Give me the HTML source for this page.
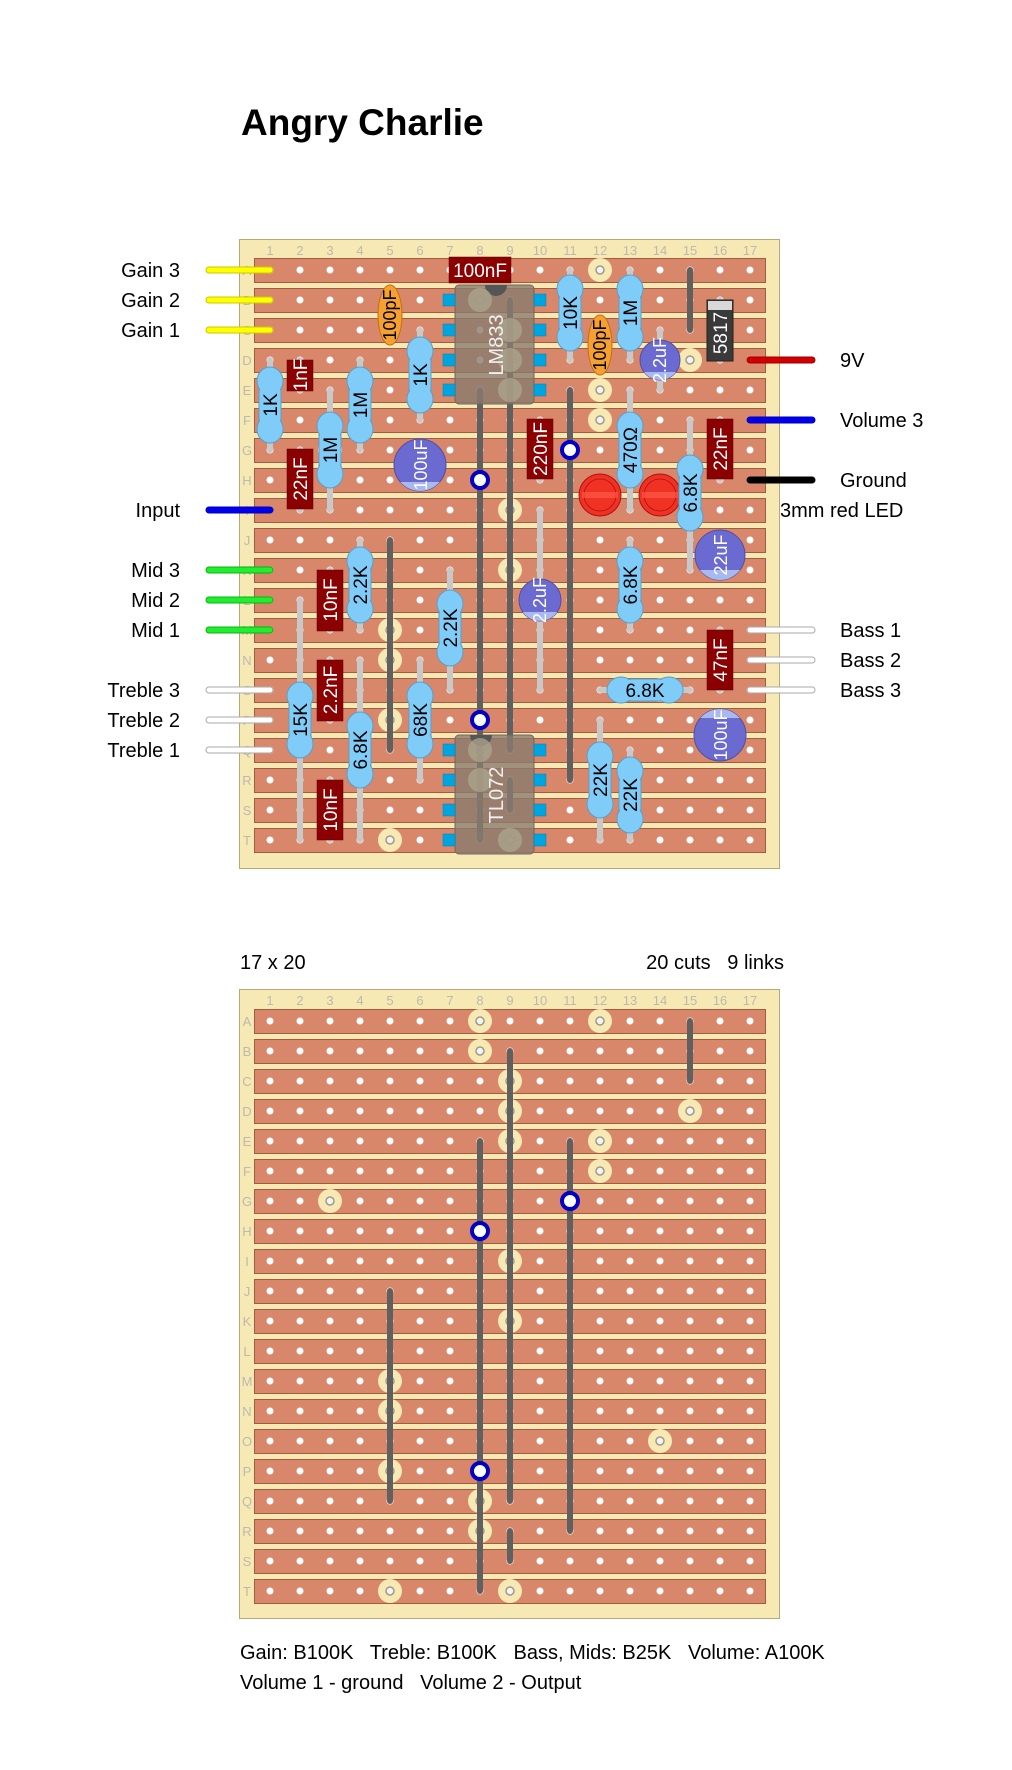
<!DOCTYPE html>
<html><head><meta charset="utf-8"><style>
html,body{margin:0;padding:0;background:#fff;}
svg{display:block;font-family:"Liberation Sans",sans-serif;}
.pre{white-space:pre;}
</style></head><body>
<svg width="1012" height="1770" viewBox="0 0 1012 1770" xmlns="http://www.w3.org/2000/svg">
<defs>
<pattern id="h1" x="255" y="255" width="30" height="30" patternUnits="userSpaceOnUse"><circle cx="15" cy="15" r="3.5" fill="#fff"/></pattern>
<pattern id="h2" x="255" y="1006" width="30" height="30" patternUnits="userSpaceOnUse"><circle cx="15" cy="15" r="3.5" fill="#fff"/></pattern>
<g id="cut"><circle r="12" fill="#f7e9b4"/><circle r="4" fill="#f4f4f4" stroke="#a09a8a" stroke-width="1.5"/></g>
<g id="rv"><rect x="-11" y="-28" width="22" height="56" fill="#80ccf8" stroke="#5a9fc8"/><ellipse cy="-24" rx="13" ry="14" fill="#80ccf8" stroke="#5a9fc8"/><ellipse cy="24" rx="13" ry="14" fill="#80ccf8" stroke="#5a9fc8"/><rect x="-10" y="-24" width="20" height="48" fill="#80ccf8"/></g>
<g id="pad"><circle r="8" fill="#fff" stroke="#0000c8" stroke-width="4"/></g>
<clipPath id="c1"><circle cx="420" cy="465" r="26"/></clipPath>
<clipPath id="c2"><circle cx="660" cy="360" r="20"/></clipPath>
<clipPath id="c3"><circle cx="720" cy="555" r="25"/></clipPath>
<clipPath id="c4"><circle cx="540" cy="600" r="21"/></clipPath>
<clipPath id="c5"><circle cx="720" cy="735" r="26"/></clipPath>
</defs>

<text x="241" y="135" font-size="37" font-weight="bold" fill="#000">Angry Charlie</text>

<!-- ============ TOP BOARD ============ -->
<rect x="239.5" y="239.5" width="540" height="629" fill="#f7e9b4" stroke="#b9a877"/>
<g font-size="13" fill="#bdb9ad" text-anchor="middle">
<text x="270" y="255">1</text><text x="300" y="255">2</text><text x="330" y="255">3</text><text x="360" y="255">4</text><text x="390" y="255">5</text><text x="420" y="255">6</text><text x="450" y="255">7</text><text x="480" y="255">8</text><text x="510" y="255">9</text><text x="540" y="255">10</text><text x="570" y="255">11</text><text x="600" y="255">12</text><text x="630" y="255">13</text><text x="660" y="255">14</text><text x="690" y="255">15</text><text x="720" y="255">16</text><text x="750" y="255">17</text>
<text x="247" y="275">A</text><text x="247" y="305">B</text><text x="247" y="335">C</text><text x="247" y="365">D</text><text x="247" y="395">E</text><text x="247" y="425">F</text><text x="247" y="455">G</text><text x="247" y="485">H</text><text x="247" y="515">I</text><text x="247" y="545">J</text><text x="247" y="575">K</text><text x="247" y="605">L</text><text x="247" y="635">M</text><text x="247" y="665">N</text><text x="247" y="695">O</text><text x="247" y="725">P</text><text x="247" y="755">Q</text><text x="247" y="785">R</text><text x="247" y="815">S</text><text x="247" y="845">T</text>
</g>
<g fill="#d9876a" stroke="#a35c40" stroke-width="1">
<rect x="254.5" y="258.5" width="511" height="24"/><rect x="254.5" y="288.5" width="511" height="24"/><rect x="254.5" y="318.5" width="511" height="24"/><rect x="254.5" y="348.5" width="511" height="24"/><rect x="254.5" y="378.5" width="511" height="24"/><rect x="254.5" y="408.5" width="511" height="24"/><rect x="254.5" y="438.5" width="511" height="24"/><rect x="254.5" y="468.5" width="511" height="24"/><rect x="254.5" y="498.5" width="511" height="24"/><rect x="254.5" y="528.5" width="511" height="24"/><rect x="254.5" y="558.5" width="511" height="24"/><rect x="254.5" y="588.5" width="511" height="24"/><rect x="254.5" y="618.5" width="511" height="24"/><rect x="254.5" y="648.5" width="511" height="24"/><rect x="254.5" y="678.5" width="511" height="24"/><rect x="254.5" y="708.5" width="511" height="24"/><rect x="254.5" y="738.5" width="511" height="24"/><rect x="254.5" y="768.5" width="511" height="24"/><rect x="254.5" y="798.5" width="511" height="24"/><rect x="254.5" y="828.5" width="511" height="24"/>
</g>
<rect x="255" y="255" width="510" height="600" fill="url(#h1)"/>
<!-- cuts -->
<use href="#cut" x="480" y="270"/><use href="#cut" x="600" y="270"/><use href="#cut" x="480" y="300"/><use href="#cut" x="510" y="330"/><use href="#cut" x="510" y="360"/><use href="#cut" x="690" y="360"/><use href="#cut" x="510" y="390"/><use href="#cut" x="600" y="390"/><use href="#cut" x="600" y="420"/><use href="#cut" x="330" y="450"/><use href="#cut" x="510" y="510"/><use href="#cut" x="510" y="570"/><use href="#cut" x="390" y="630"/><use href="#cut" x="390" y="660"/><use href="#cut" x="660" y="690"/><use href="#cut" x="390" y="720"/><use href="#cut" x="480" y="750"/><use href="#cut" x="480" y="780"/><use href="#cut" x="390" y="840"/><use href="#cut" x="510" y="840"/>
<!-- links -->
<g stroke="#606060" stroke-width="6" stroke-linecap="round">
<line x1="690" y1="270" x2="690" y2="330"/><line x1="510" y1="300" x2="510" y2="750"/><line x1="480" y1="390" x2="480" y2="840"/><line x1="570" y1="390" x2="570" y2="780"/><line x1="390" y1="540" x2="390" y2="750"/><line x1="510" y1="780" x2="510" y2="810"/>
</g>
<!-- component leads -->
<g stroke="#c8c8c8" stroke-width="6" stroke-linecap="round">
<line x1="270" y1="360" x2="270" y2="450"/><line x1="330" y1="390" x2="330" y2="510"/><line x1="360" y1="360" x2="360" y2="450"/><line x1="420" y1="330" x2="420" y2="420"/><line x1="570" y1="270" x2="570" y2="360"/><line x1="630" y1="270" x2="630" y2="360"/><line x1="630" y1="390" x2="630" y2="510"/><line x1="690" y1="420" x2="690" y2="570"/><line x1="660" y1="330" x2="660" y2="390"/><line x1="600" y1="480" x2="600" y2="510"/><line x1="660" y1="480" x2="660" y2="510"/><line x1="720" y1="300" x2="720" y2="360"/><line x1="720" y1="420" x2="720" y2="480"/><line x1="720" y1="630" x2="720" y2="690"/><line x1="540" y1="420" x2="540" y2="480"/><line x1="300" y1="360" x2="300" y2="390"/><line x1="300" y1="450" x2="300" y2="510"/>
<line x1="360" y1="540" x2="360" y2="630"/><line x1="450" y1="570" x2="450" y2="690"/><line x1="300" y1="600" x2="300" y2="840"/><line x1="360" y1="660" x2="360" y2="840"/><line x1="420" y1="660" x2="420" y2="780"/><line x1="540" y1="510" x2="540" y2="690"/><line x1="630" y1="540" x2="630" y2="630"/><line x1="600" y1="720" x2="600" y2="840"/><line x1="630" y1="750" x2="630" y2="840"/><line x1="600" y1="690" x2="690" y2="690"/>
<line x1="330" y1="570" x2="330" y2="630"/><line x1="330" y1="660" x2="330" y2="720"/><line x1="330" y1="780" x2="330" y2="840"/>
</g>
<!-- ICs -->
<g>
<rect x="455" y="285" width="79" height="119" rx="4" fill="#8a7c6e" fill-opacity="0.8" stroke="#6f665c"/>
<path d="M485 285 a11 11 0 0 0 22 0z" fill="#555"/>
<g fill="#00a5e0" stroke="#0080b0" stroke-width="0.5"><rect x="443" y="294" width="12" height="12"/><rect x="443" y="324" width="12" height="12"/><rect x="443" y="354" width="12" height="12"/><rect x="443" y="384" width="12" height="12"/><rect x="534" y="294" width="12" height="12"/><rect x="534" y="324" width="12" height="12"/><rect x="534" y="354" width="12" height="12"/><rect x="534" y="384" width="12" height="12"/></g>
<g fill="#a9a08a" fill-opacity="0.8"><circle cx="480" cy="300" r="12"/><circle cx="510" cy="330" r="12"/><circle cx="510" cy="360" r="12"/><circle cx="510" cy="390" r="12"/></g>
<text transform="translate(503,345) rotate(-90)" font-size="20" fill="#f0f0f0" text-anchor="middle">LM833</text>
<rect x="455" y="735" width="79" height="119" rx="4" fill="#8a7c6e" fill-opacity="0.8" stroke="#6f665c"/>
<path d="M470 735 a11 11 0 0 0 22 0z" fill="#555"/>
<g fill="#00a5e0" stroke="#0080b0" stroke-width="0.5"><rect x="443" y="744" width="12" height="12"/><rect x="443" y="774" width="12" height="12"/><rect x="443" y="804" width="12" height="12"/><rect x="443" y="834" width="12" height="12"/><rect x="534" y="744" width="12" height="12"/><rect x="534" y="774" width="12" height="12"/><rect x="534" y="804" width="12" height="12"/><rect x="534" y="834" width="12" height="12"/></g>
<g fill="#a9a08a" fill-opacity="0.8"><circle cx="480" cy="750" r="12"/><circle cx="480" cy="780" r="12"/><circle cx="510" cy="840" r="12"/></g>
<text transform="translate(503,795) rotate(-90)" font-size="20" fill="#f0f0f0" text-anchor="middle">TL072</text>
</g>
<!-- pads -->
<use href="#pad" x="480" y="480"/><use href="#pad" x="570" y="450"/><use href="#pad" x="480" y="720"/>
<!-- film caps -->
<g fill="#8b0000" stroke="#5a0000" stroke-width="0.5">
<rect x="449" y="257" width="62" height="26"/>
<rect x="287" y="360" width="26" height="31"/><rect x="287" y="449" width="26" height="60"/><rect x="527" y="419" width="26" height="60"/><rect x="707" y="419" width="26" height="60"/>
<rect x="317" y="570" width="26" height="61"/><rect x="317" y="660" width="26" height="61"/><rect x="317" y="780" width="26" height="60"/><rect x="707" y="630" width="26" height="60"/>
</g>
<g fill="#fff" font-size="19" text-anchor="middle">
<text x="480" y="277">100nF</text>
<text transform="translate(307,375) rotate(-90)">1nF</text>
<text transform="translate(307,479) rotate(-90)">22nF</text>
<text transform="translate(547,449) rotate(-90)">220nF</text>
<text transform="translate(727,449) rotate(-90)">22nF</text>
<text transform="translate(337,600) rotate(-90)">10nF</text>
<text transform="translate(337,690) rotate(-90)">2.2nF</text>
<text transform="translate(337,810) rotate(-90)">10nF</text>
<text transform="translate(727,660) rotate(-90)">47nF</text>
</g>
<!-- ceramic -->
<ellipse cx="390" cy="315" rx="12" ry="30" fill="#f5a030" stroke="#c07010"/>
<ellipse cx="600" cy="345" rx="12" ry="30" fill="#f5a030" stroke="#c07010"/>
<g font-size="18" fill="#000" text-anchor="middle">
<text transform="translate(396,315) rotate(-90)">100pF</text>
<text transform="translate(606,345) rotate(-90)">100pF</text>
</g>
<!-- diode -->
<rect x="707" y="300" width="26" height="61" fill="#3a3a3a" stroke="#222"/>
<rect x="708" y="301" width="24" height="9" fill="#d8d8d8"/>
<text transform="translate(727,333) rotate(-90)" font-size="19" fill="#fff" text-anchor="middle">5817</text>
<!-- electrolytics -->
<g stroke="#5050a0" stroke-width="1">
<circle cx="420" cy="465" r="26" fill="#6a6ad0"/><rect x="390" y="482" width="60" height="12" fill="#a8b8f0" clip-path="url(#c1)" stroke="none"/>
<circle cx="660" cy="360" r="20" fill="#6a6ad0"/><rect x="635" y="372" width="50" height="12" fill="#a8b8f0" clip-path="url(#c2)" stroke="none"/>
<circle cx="720" cy="555" r="25" fill="#6a6ad0"/><rect x="690" y="570" width="60" height="12" fill="#a8b8f0" clip-path="url(#c3)" stroke="none"/>
<circle cx="540" cy="600" r="21" fill="#6a6ad0"/><rect x="515" y="612" width="50" height="12" fill="#a8b8f0" clip-path="url(#c4)" stroke="none"/>
<circle cx="720" cy="735" r="26" fill="#6a6ad0"/><rect x="690" y="705" width="60" height="13" fill="#a8b8f0" clip-path="url(#c5)" stroke="none"/>
</g>
<g fill="#fff" font-size="18" text-anchor="middle">
<text transform="translate(427,465) rotate(-90)">100uF</text>
<text transform="translate(666,360) rotate(-90)">2.2uF</text>
<text transform="translate(727,555) rotate(-90)">22uF</text>
<text transform="translate(546,600) rotate(-90)">2.2uF</text>
<text transform="translate(727,735) rotate(-90)">100uF</text>
</g>
<!-- LEDs -->
<g><circle cx="600" cy="495" r="21" fill="#f03224" stroke="#b01010"/><circle cx="600" cy="495" r="16" fill="none" stroke="#b01010" stroke-width="0.8"/><rect x="582" y="492" width="36" height="6" fill="#ff6050" opacity="0.6"/>
<circle cx="660" cy="495" r="21" fill="#f03224" stroke="#b01010"/><circle cx="660" cy="495" r="16" fill="none" stroke="#b01010" stroke-width="0.8"/><rect x="642" y="492" width="36" height="6" fill="#ff6050" opacity="0.6"/>
</g>
<!-- resistors -->
<use href="#rv" x="270" y="405"/><use href="#rv" x="330" y="450"/><use href="#rv" x="360" y="405"/><use href="#rv" x="420" y="375"/><use href="#rv" x="570" y="313"/><use href="#rv" x="630" y="313"/><use href="#rv" x="630" y="450"/><use href="#rv" x="690" y="493"/><use href="#rv" x="360" y="585"/><use href="#rv" x="450" y="628"/><use href="#rv" x="300" y="720"/><use href="#rv" x="360" y="750"/><use href="#rv" x="420" y="720"/><use href="#rv" x="630" y="585"/><use href="#rv" x="600" y="780"/><use href="#rv" x="630" y="795"/>
<use href="#rv" transform="translate(645,690) rotate(90)"/>
<g font-size="19" fill="#000" text-anchor="middle">
<text transform="translate(277,405) rotate(-90)">1K</text>
<text transform="translate(337,450) rotate(-90)">1M</text>
<text transform="translate(367,405) rotate(-90)">1M</text>
<text transform="translate(427,375) rotate(-90)">1K</text>
<text transform="translate(577,313) rotate(-90)">10K</text>
<text transform="translate(637,313) rotate(-90)">1M</text>
<text transform="translate(637,450) rotate(-90)">470Ω</text>
<text transform="translate(697,493) rotate(-90)">6.8K</text>
<text transform="translate(367,585) rotate(-90)">2.2K</text>
<text transform="translate(457,628) rotate(-90)">2.2K</text>
<text transform="translate(307,720) rotate(-90)">15K</text>
<text transform="translate(367,750) rotate(-90)">6.8K</text>
<text transform="translate(427,720) rotate(-90)">68K</text>
<text transform="translate(637,585) rotate(-90)">6.8K</text>
<text transform="translate(607,780) rotate(-90)">22K</text>
<text transform="translate(637,795) rotate(-90)">22K</text>
<text x="645" y="697">6.8K</text>
</g>
<!-- off-board wires -->
<g stroke-linecap="round" stroke-width="7">
<line x1="209" y1="270" x2="270" y2="270" stroke="#c8c800"/><line x1="209" y1="300" x2="270" y2="300" stroke="#c8c800"/><line x1="209" y1="330" x2="270" y2="330" stroke="#c8c800"/>
<line x1="209" y1="510" x2="270" y2="510" stroke="#0000b0"/>
<line x1="209" y1="570" x2="270" y2="570" stroke="#10b010"/><line x1="209" y1="600" x2="270" y2="600" stroke="#10b010"/><line x1="209" y1="630" x2="270" y2="630" stroke="#10b010"/>
<line x1="209" y1="690" x2="270" y2="690" stroke="#aaa"/><line x1="209" y1="720" x2="270" y2="720" stroke="#aaa"/><line x1="209" y1="750" x2="270" y2="750" stroke="#aaa"/>
<line x1="750" y1="360" x2="812" y2="360" stroke="#a00000"/><line x1="750" y1="420" x2="812" y2="420" stroke="#0000b0"/><line x1="750" y1="480" x2="812" y2="480" stroke="#000"/>
<line x1="750" y1="630" x2="812" y2="630" stroke="#aaa"/><line x1="750" y1="660" x2="812" y2="660" stroke="#aaa"/><line x1="750" y1="690" x2="812" y2="690" stroke="#aaa"/>
</g>
<g stroke-linecap="round" stroke-width="5">
<line x1="209" y1="270" x2="270" y2="270" stroke="#ffff00"/><line x1="209" y1="300" x2="270" y2="300" stroke="#ffff00"/><line x1="209" y1="330" x2="270" y2="330" stroke="#ffff00"/>
<line x1="209" y1="510" x2="270" y2="510" stroke="#0000ee"/>
<line x1="209" y1="570" x2="270" y2="570" stroke="#20ee30"/><line x1="209" y1="600" x2="270" y2="600" stroke="#20ee30"/><line x1="209" y1="630" x2="270" y2="630" stroke="#20ee30"/>
<line x1="209" y1="690" x2="270" y2="690" stroke="#fff"/><line x1="209" y1="720" x2="270" y2="720" stroke="#fff"/><line x1="209" y1="750" x2="270" y2="750" stroke="#fff"/>
<line x1="750" y1="360" x2="812" y2="360" stroke="#d00000"/><line x1="750" y1="420" x2="812" y2="420" stroke="#0000ee"/>
<line x1="750" y1="630" x2="812" y2="630" stroke="#fff"/><line x1="750" y1="660" x2="812" y2="660" stroke="#fff"/><line x1="750" y1="690" x2="812" y2="690" stroke="#fff"/>
</g>
<g font-size="20" fill="#000">
<g text-anchor="end">
<text x="180" y="277">Gain 3</text><text x="180" y="307">Gain 2</text><text x="180" y="337">Gain 1</text>
<text x="180" y="517">Input</text>
<text x="180" y="577">Mid 3</text><text x="180" y="607">Mid 2</text><text x="180" y="637">Mid 1</text>
<text x="180" y="697">Treble 3</text><text x="180" y="727">Treble 2</text><text x="180" y="757">Treble 1</text>
</g>
<text x="840" y="367">9V</text><text x="840" y="427">Volume 3</text><text x="840" y="487">Ground</text><text x="780" y="517">3mm red LED</text>
<text x="840" y="637">Bass 1</text><text x="840" y="667">Bass 2</text><text x="840" y="697">Bass 3</text>
</g>

<!-- ============ BOTTOM BOARD ============ -->
<text x="240" y="969" font-size="20">17 x 20</text>
<text x="784" y="969" font-size="20" text-anchor="end" class="pre" xml:space="preserve">20 cuts   9 links</text>
<rect x="239.5" y="989.5" width="540" height="629" fill="#f7e9b4" stroke="#b9a877"/>
<g font-size="13" fill="#bdb9ad" text-anchor="middle">
<text x="270" y="1005">1</text><text x="300" y="1005">2</text><text x="330" y="1005">3</text><text x="360" y="1005">4</text><text x="390" y="1005">5</text><text x="420" y="1005">6</text><text x="450" y="1005">7</text><text x="480" y="1005">8</text><text x="510" y="1005">9</text><text x="540" y="1005">10</text><text x="570" y="1005">11</text><text x="600" y="1005">12</text><text x="630" y="1005">13</text><text x="660" y="1005">14</text><text x="690" y="1005">15</text><text x="720" y="1005">16</text><text x="750" y="1005">17</text>
<text x="247" y="1026">A</text><text x="247" y="1056">B</text><text x="247" y="1086">C</text><text x="247" y="1116">D</text><text x="247" y="1146">E</text><text x="247" y="1176">F</text><text x="247" y="1206">G</text><text x="247" y="1236">H</text><text x="247" y="1266">I</text><text x="247" y="1296">J</text><text x="247" y="1326">K</text><text x="247" y="1356">L</text><text x="247" y="1386">M</text><text x="247" y="1416">N</text><text x="247" y="1446">O</text><text x="247" y="1476">P</text><text x="247" y="1506">Q</text><text x="247" y="1536">R</text><text x="247" y="1566">S</text><text x="247" y="1596">T</text>
</g>
<g fill="#d9876a" stroke="#a35c40" stroke-width="1">
<rect x="254.5" y="1009.5" width="511" height="24"/><rect x="254.5" y="1039.5" width="511" height="24"/><rect x="254.5" y="1069.5" width="511" height="24"/><rect x="254.5" y="1099.5" width="511" height="24"/><rect x="254.5" y="1129.5" width="511" height="24"/><rect x="254.5" y="1159.5" width="511" height="24"/><rect x="254.5" y="1189.5" width="511" height="24"/><rect x="254.5" y="1219.5" width="511" height="24"/><rect x="254.5" y="1249.5" width="511" height="24"/><rect x="254.5" y="1279.5" width="511" height="24"/><rect x="254.5" y="1309.5" width="511" height="24"/><rect x="254.5" y="1339.5" width="511" height="24"/><rect x="254.5" y="1369.5" width="511" height="24"/><rect x="254.5" y="1399.5" width="511" height="24"/><rect x="254.5" y="1429.5" width="511" height="24"/><rect x="254.5" y="1459.5" width="511" height="24"/><rect x="254.5" y="1489.5" width="511" height="24"/><rect x="254.5" y="1519.5" width="511" height="24"/><rect x="254.5" y="1549.5" width="511" height="24"/><rect x="254.5" y="1579.5" width="511" height="24"/>
</g>
<rect x="255" y="1006" width="510" height="600" fill="url(#h2)"/>
<use href="#cut" x="480" y="1021"/><use href="#cut" x="600" y="1021"/><use href="#cut" x="480" y="1051"/><use href="#cut" x="510" y="1081"/><use href="#cut" x="510" y="1111"/><use href="#cut" x="690" y="1111"/><use href="#cut" x="510" y="1141"/><use href="#cut" x="600" y="1141"/><use href="#cut" x="600" y="1171"/><use href="#cut" x="330" y="1201"/><use href="#cut" x="510" y="1261"/><use href="#cut" x="510" y="1321"/><use href="#cut" x="390" y="1381"/><use href="#cut" x="390" y="1411"/><use href="#cut" x="660" y="1441"/><use href="#cut" x="390" y="1471"/><use href="#cut" x="480" y="1501"/><use href="#cut" x="480" y="1531"/><use href="#cut" x="390" y="1591"/><use href="#cut" x="510" y="1591"/>
<g stroke="#606060" stroke-width="6" stroke-linecap="round">
<line x1="690" y1="1021" x2="690" y2="1081"/><line x1="510" y1="1051" x2="510" y2="1501"/><line x1="480" y1="1141" x2="480" y2="1591"/><line x1="570" y1="1141" x2="570" y2="1531"/><line x1="390" y1="1291" x2="390" y2="1501"/><line x1="510" y1="1531" x2="510" y2="1561"/>
</g>
<use href="#pad" x="570" y="1201"/><use href="#pad" x="480" y="1231"/><use href="#pad" x="480" y="1471"/>

<g font-size="20" fill="#000">
<text x="240" y="1659" class="pre" xml:space="preserve">Gain: B100K   Treble: B100K   Bass, Mids: B25K   Volume: A100K</text>
<text x="240" y="1689" class="pre" xml:space="preserve">Volume 1 - ground   Volume 2 - Output</text>
</g>
</svg>
</body></html>
